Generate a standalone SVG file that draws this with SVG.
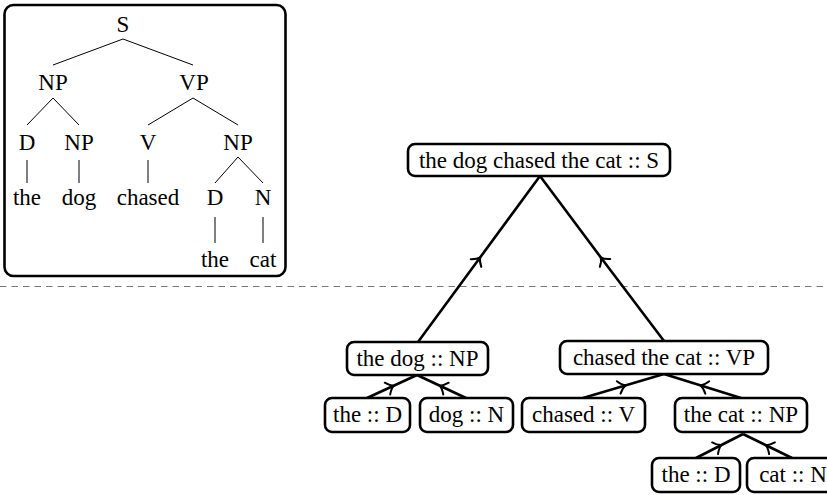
<svg xmlns="http://www.w3.org/2000/svg" width="827" height="495" viewBox="0 0 827 495">
<style>
text{font-family:'Liberation Serif','DejaVu Serif','Times New Roman',serif;font-size:23px;fill:#000;text-anchor:middle}
.box{fill:#fff;stroke:#000;stroke-width:2.6}
.tl{stroke:#000;stroke-width:1;fill:none}
.edge{stroke:#000;stroke-width:2.6;fill:none;marker-mid:url(#ah)}
</style>
<defs>
<marker id="ah" markerUnits="userSpaceOnUse" markerWidth="20" markerHeight="20" refX="0" refY="0" viewBox="-10 -10 20 20" orient="auto" overflow="visible">
<path d="M-5,-6.5 Q-1.5,-1.5 2,0 Q-1.5,1.5 -5,6.5" fill="none" stroke="#000" stroke-width="2" stroke-linecap="round"/>
</marker>
</defs>
<rect width="827" height="495" fill="#fff"/>
<g id="inset" font-family="Liberation Serif, DejaVu Serif, serif">
<rect x="4.5" y="5" width="281" height="271" rx="9" fill="#fff" stroke="#000" stroke-width="2.6"/>
<g class="tl">
<path d="M123,39 L53,65 M123,39 L193,65"/>
<path d="M53,98 L27,125 M53,98 L79,125"/>
<path d="M193,98 L148,125 M193,98 L238,125"/>
<path d="M27,160 L27,183 M79,160 L79,183 M148,160 L148,183"/>
<path d="M238,157 L215,183 M238,157 L263,183"/>
<path d="M215,217 L215,243 M263,217 L263,243"/>
</g>
<text x="123" y="32">S</text>
<text x="53" y="90">NP</text>
<text x="194" y="90">VP</text>
<text x="27" y="150">D</text>
<text x="79" y="150">NP</text>
<text x="148" y="150">V</text>
<text x="238" y="150">NP</text>
<text x="27" y="205">the</text>
<text x="79" y="205">dog</text>
<text x="148" y="205">chased</text>
<text x="215" y="205">D</text>
<text x="263" y="205">N</text>
<text x="215" y="267">the</text>
<text x="263" y="267">cat</text>
</g>
<line x1="0" y1="286.5" x2="827" y2="286.5" stroke="#777" stroke-width="1" stroke-dasharray="6.5,5"/>
<g id="connectors">
<path class="edge" d="M418,342 L479,259 L540,176"/>
<path class="edge" d="M664,341 L602,259 L540,176"/>
<path class="edge" d="M367,398 L392,386.5 L417,375"/>
<path class="edge" d="M466,398 L441.5,386.5 L417,375"/>
<path class="edge" d="M583,398 L623.5,386 L664,374"/>
<path class="edge" d="M741,398 L702.5,386 L664,374"/>
<path class="edge" d="M696,458 L719.5,446 L743,434"/>
<path class="edge" d="M792,458 L767.5,446 L743,434"/>
</g>
<g id="n_S">
<rect class="box" x="408" y="144" width="262" height="32" rx="7"/>
<text x="539" y="168">the dog chased the cat :: S</text>
</g>
<g id="n_NP1">
<rect class="box" x="347" y="342" width="141" height="33" rx="7"/>
<text x="417.5" y="366">the dog :: NP</text>
</g>
<g id="n_VP">
<rect class="box" x="560" y="341" width="208" height="33" rx="7"/>
<text x="664" y="365">chased the cat :: VP</text>
</g>
<g id="n_D1">
<rect class="box" x="325" y="398" width="85" height="34" rx="7"/>
<text x="367.5" y="422">the :: D</text>
</g>
<g id="n_N1">
<rect class="box" x="420" y="398" width="93" height="34" rx="7"/>
<text x="466.5" y="422">dog :: N</text>
</g>
<g id="n_V">
<rect class="box" x="522" y="398" width="123" height="34" rx="7"/>
<text x="583.5" y="422">chased :: V</text>
</g>
<g id="n_NP2">
<rect class="box" x="675" y="398" width="132" height="34" rx="7"/>
<text x="741" y="422">the cat :: NP</text>
</g>
<g id="n_D2">
<rect class="box" x="652" y="458" width="88" height="34" rx="7"/>
<text x="696" y="482">the :: D</text>
</g>
<g id="n_N2">
<rect class="box" x="747" y="458" width="92" height="34" rx="7"/>
<text x="793" y="482">cat :: N</text>
</g>
</svg>
